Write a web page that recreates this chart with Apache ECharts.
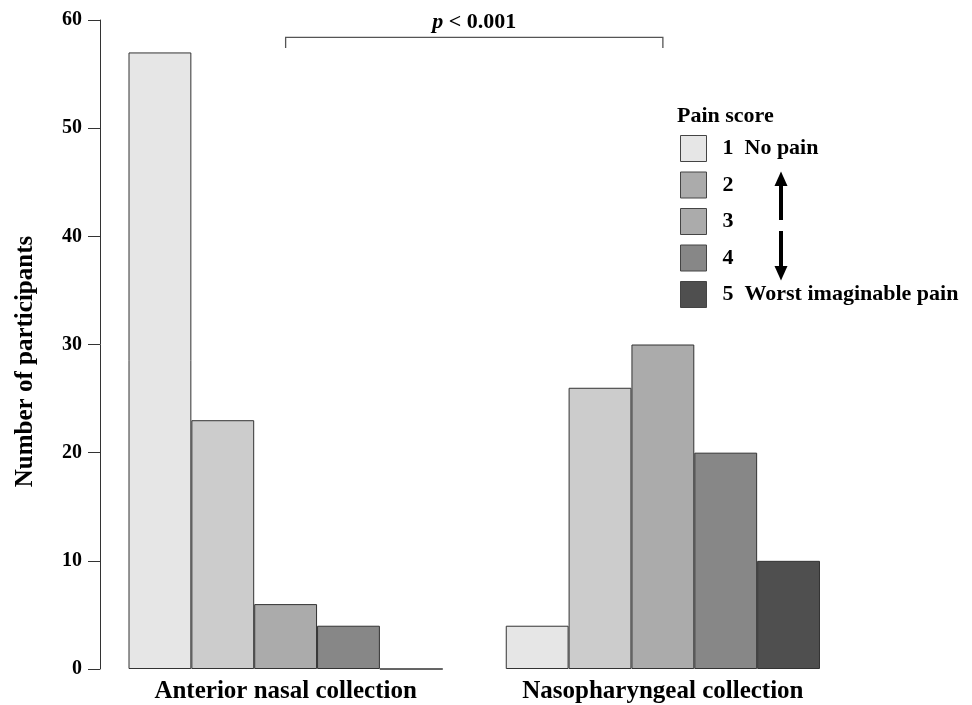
<!DOCTYPE html>
<html>
<head>
<meta charset="utf-8">
<script src="https://cdn.jsdelivr.net/npm/echarts@6/dist/echarts.min.js"></script>
<style>
  html, body { margin: 0; padding: 0; background: #fff; }
  #chart { width: 972px; height: 705px; }
</style>
</head>
<body>
<div id="chart"></div>
<script>
// data
var categories = ["Anterior nasal collection", "Nasopharyngeal collection"];
var scores = ["1", "2", "3", "4", "5"];
var scoreLabels = ["1  No pain", "2", "3", "4", "5  Worst imaginable pain"];
var score1 = [57, 4];
var score2 = [23, 26];
var score3 = [6, 30];
var score4 = [4, 20];
var score5 = [0, 10];
var values = [score1, score2, score3, score4, score5];
var yTicks = [0, 10, 20, 30, 40, 50, 60];
var pLabel = "{i|p} < 0.001";

var barColors = ["#e6e6e6", "#cccccc", "#ababab", "#878787", "#4f4f4f"];
// legend box for score 2 is darker than its bars in the original
var legendColors = ["#e6e6e6", "#ababab", "#ababab", "#878787", "#4f4f4f"];
var font = '"Liberation Serif", "Times New Roman", serif';

var chart = echarts.init(document.getElementById("chart"));

var option = {
  animation: false,
  title: {
    text: "Pain score",
    left: 677,
    top: 105,
    padding: 0,
    textStyle: { fontFamily: font, fontWeight: "bold", fontSize: 22, color: "#000" }
  },
  legend: {
    orient: "vertical",
    left: 680,
    top: 135,
    padding: 0,
    icon: "rect",
    itemWidth: 26,
    itemHeight: 26,
    itemGap: 9.5,
    selectedMode: false,
    data: scores.map(function (s, i) {
      return { name: s, itemStyle: { color: legendColors[i], borderColor: "#444", borderWidth: 1 } };
    }),
    formatter: function (name) {
      return scoreLabels[scores.indexOf(name)];
    },
    textStyle: { fontFamily: font, fontWeight: "bold", fontSize: 22, color: "#000", padding: [0, 0, 0, 11] }
  },
  grid: { left: 97, right: 120.5, top: 20, bottom: 36 },
  xAxis: {
    type: "category",
    data: categories,
    axisLine: { show: false },
    axisTick: { show: false },
    axisLabel: { margin: 10, fontFamily: font, fontWeight: "bold", fontSize: 25, color: "#000" }
  },
  yAxis: {
    type: "value",
    min: yTicks[0],
    max: yTicks[yTicks.length - 1],
    interval: yTicks[1] - yTicks[0],
    offset: -3,
    name: "Number of participants",
    nameLocation: "middle",
    nameRotate: 90,
    nameGap: 62,
    nameTextStyle: { fontFamily: font, fontWeight: "bold", fontSize: 25, color: "#000", padding: [0, 34, 0, 0] },
    axisLine: { show: true, lineStyle: { color: "#333", width: 1 } },
    axisTick: { show: true, length: 12, lineStyle: { color: "#333", width: 1 } },
    splitLine: { show: false },
    axisLabel: { margin: 18, fontFamily: font, fontWeight: "bold", fontSize: 20, color: "#000" }
  },
  series: scores.map(function (s, i) {
    return {
      name: s,
      type: "bar",
      data: values[i],
      barGap: "0%",
      barCategoryGap: "16.7%",
      itemStyle: { color: barColors[i], borderColor: "#333", borderWidth: 1 },
      emphasis: { disabled: true }
    };
  })
};
chart.setOption(option);

// bracket over the two groups, and the arrows in the legend
var x1 = chart.convertToPixel({ xAxisIndex: 0 }, categories[0]);
var x2 = chart.convertToPixel({ xAxisIndex: 0 }, categories[1]);
var yTop = chart.convertToPixel({ yAxisIndex: 0 }, 58.4);
var yLeg = chart.convertToPixel({ yAxisIndex: 0 }, 57.4);

chart.setOption({
  graphic: [
    {
      type: "polyline",
      shape: { points: [[x1, yLeg], [x1, yTop], [x2, yTop], [x2, yLeg]] },
      style: { stroke: "#555", lineWidth: 1.3, fill: null }
    },
    {
      type: "text",
      x: (x1 + x2) / 2,
      y: yTop - 15,
      style: {
        text: pLabel,
        fontFamily: font,
        fontWeight: "bold",
        fontSize: 22,
        fill: "#000",
        align: "center",
        verticalAlign: "middle",
        rich: { i: { fontStyle: "italic", fontFamily: font, fontWeight: "bold", fontSize: 22, fill: "#000" } }
      }
    },
    { type: "rect", shape: { x: 779, y: 185, width: 4, height: 35 }, style: { fill: "#000" } },
    { type: "polygon", shape: { points: [[781, 171.5], [774.5, 186], [787.5, 186]] }, style: { fill: "#000" } },
    { type: "rect", shape: { x: 779, y: 231, width: 4, height: 36 }, style: { fill: "#000" } },
    { type: "polygon", shape: { points: [[774.5, 266], [787.5, 266], [781, 280.5]] }, style: { fill: "#000" } }
  ]
});
</script>
</body>
</html>
